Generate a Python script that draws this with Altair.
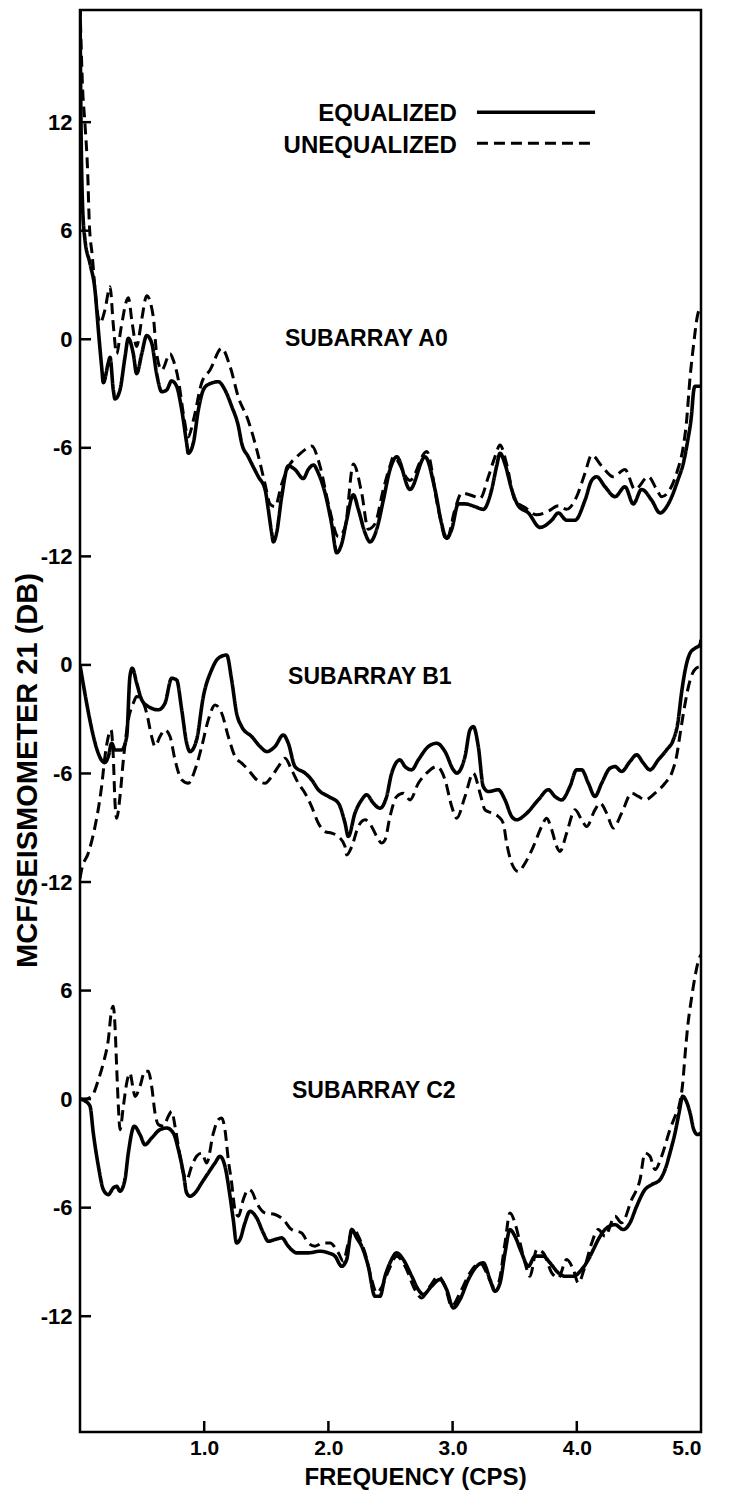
import altair as alt
import pandas as pd

FONT = "Liberation Sans"

SERIES = ["EQUALIZED", "UNEQUALIZED"]
PANEL_OFFSET_DB = {"A0": 0, "B1": -18, "C2": -42}

# (frequency cps, dB)
A0_EQUALIZED = [(0.0, 18.5), (0.008, 12.0), (0.02, 7.5), (0.04, 5.5), (0.08, 4.2), (0.121, 2.7), (0.148, 0.5), (0.174, -1.5), (0.188, -2.4), (0.228, -1.3), (0.242, -1.0), (0.268, -2.8), (0.282, -3.3), (0.322, -2.8), (0.362, -1.0), (0.389, 0.05), (0.429, -0.8), (0.456, -1.9), (0.497, -0.8), (0.537, 0.2), (0.577, -0.2), (0.617, -1.9), (0.658, -2.9), (0.698, -2.8), (0.738, -2.3), (0.778, -2.6), (0.819, -3.9), (0.859, -5.75), (0.872, -6.3), (0.912, -5.75), (0.953, -3.9), (0.993, -2.8), (1.033, -2.5), (1.114, -2.35), (1.167, -2.8), (1.221, -3.7), (1.275, -4.8), (1.302, -5.75), (1.355, -6.5), (1.436, -7.6), (1.49, -8.3), (1.516, -9.4), (1.543, -10.7), (1.557, -11.2), (1.583, -10.7), (1.624, -8.7), (1.677, -7.0), (1.731, -7.2), (1.798, -7.7), (1.838, -7.2), (1.879, -6.95), (1.919, -7.4), (1.973, -8.5), (2.026, -10.2), (2.067, -11.8), (2.107, -11.3), (2.147, -10.0), (2.201, -8.6), (2.241, -9.4), (2.295, -10.7), (2.335, -11.2), (2.389, -10.5), (2.442, -8.9), (2.496, -7.2), (2.55, -6.5), (2.657, -8.3), (2.778, -6.5), (2.858, -8.3), (2.912, -10.2), (2.952, -11.0), (2.993, -10.5), (3.046, -9.1), (3.10, -9.1), (3.18, -9.25), (3.247, -9.4), (3.315, -8.3), (3.355, -7.0), (3.382, -6.3), (3.422, -6.9), (3.476, -8.3), (3.529, -9.2), (3.61, -9.6), (3.704, -10.4), (3.798, -10.0), (3.851, -9.6), (3.918, -10.0), (3.986, -10.0), (4.066, -8.9), (4.12, -7.8), (4.16, -7.6), (4.227, -8.15), (4.308, -8.7), (4.388, -8.15), (4.455, -9.1), (4.522, -8.3), (4.603, -8.9), (4.67, -9.6), (4.737, -9.1), (4.813, -7.8), (4.863, -6.7), (4.893, -5.6), (4.922, -4.3), (4.942, -2.8), (4.952, -2.6), (5.0, -2.6)]

A0_UNEQUALIZED = [(0.0, 18.5), (0.02, 14.0), (0.04, 11.9), (0.062, 9.2), (0.075, 6.4), (0.099, 4.6), (0.126, 2.35), (0.161, 0.9), (0.2, 1.6), (0.242, 2.9), (0.268, 0.8), (0.295, -0.8), (0.33, 0.6), (0.389, 2.3), (0.42, 0.9), (0.456, -0.4), (0.497, 1.1), (0.537, 2.4), (0.59, 1.25), (0.617, -0.8), (0.658, -1.7), (0.725, -0.8), (0.751, -1.15), (0.792, -2.25), (0.832, -4.1), (0.872, -5.4), (0.912, -4.5), (0.98, -2.4), (1.047, -1.7), (1.141, -0.5), (1.208, -1.5), (1.275, -3.2), (1.355, -4.5), (1.423, -6.1), (1.49, -8.0), (1.53, -9.1), (1.57, -9.25), (1.624, -8.0), (1.691, -6.9), (1.745, -6.5), (1.812, -6.1), (1.865, -5.9), (1.932, -7.0), (2.0, -9.1), (2.08, -10.9), (2.134, -10.4), (2.201, -6.9), (2.268, -8.5), (2.321, -10.5), (2.375, -10.2), (2.442, -8.3), (2.496, -7.0), (2.523, -6.5), (2.657, -7.8), (2.791, -6.2), (2.885, -9.4), (2.952, -11.1), (3.019, -9.4), (3.073, -8.5), (3.18, -8.7), (3.221, -8.8), (3.288, -7.6), (3.341, -6.5), (3.382, -5.85), (3.435, -6.9), (3.502, -8.9), (3.583, -9.3), (3.677, -9.7), (3.771, -9.5), (3.851, -9.2), (3.918, -9.4), (3.999, -8.7), (4.066, -7.4), (4.12, -6.4), (4.2, -7.0), (4.294, -7.6), (4.388, -7.2), (4.469, -8.3), (4.576, -7.6), (4.643, -8.3), (4.683, -8.7), (4.75, -8.3), (4.813, -7.2), (4.853, -6.1), (4.882, -4.65), (4.912, -2.1), (4.942, -0.2), (4.97, 1.25), (5.0, 1.8)]

B1_EQUALIZED = [(0.0, 0.0), (0.2, -5.4), (0.228, -5.06), (0.255, -4.33), (0.282, -4.7), (0.335, -4.7), (0.376, -3.96), (0.402, -0.64), (0.421, -0.18), (0.456, -1.0), (0.497, -1.93), (0.55, -2.3), (0.631, -2.48), (0.684, -2.12), (0.738, -0.74), (0.778, -0.83), (0.819, -2.48), (0.859, -4.33), (0.886, -4.79), (0.939, -4.14), (0.993, -1.75), (1.06, -0.27), (1.114, 0.37), (1.181, 0.55), (1.221, -0.83), (1.261, -2.67), (1.302, -3.41), (1.382, -3.96), (1.463, -4.6), (1.503, -4.79), (1.57, -4.51), (1.637, -3.87), (1.677, -4.33), (1.731, -5.62), (1.812, -5.98), (1.865, -6.35), (1.919, -6.9), (2.0, -7.27), (2.08, -7.64), (2.134, -8.75), (2.16, -9.48), (2.214, -8.19), (2.268, -7.46), (2.308, -7.18), (2.362, -7.64), (2.415, -7.92), (2.469, -7.27), (2.509, -6.0), (2.576, -5.25), (2.617, -5.62), (2.67, -5.8), (2.724, -5.25), (2.805, -4.51), (2.872, -4.33), (2.939, -4.79), (3.006, -5.8), (3.033, -5.98), (3.1, -5.06), (3.14, -3.59), (3.167, -3.41), (3.207, -4.51), (3.247, -6.72), (3.288, -7.0), (3.368, -6.9), (3.422, -7.46), (3.476, -8.38), (3.516, -8.56), (3.583, -8.29), (3.69, -7.46), (3.771, -6.9), (3.824, -7.27), (3.878, -7.46), (3.945, -6.72), (3.999, -5.8), (4.039, -5.8), (4.093, -6.54), (4.146, -7.27), (4.2, -6.54), (4.267, -5.71), (4.308, -5.62), (4.361, -5.89), (4.428, -5.34), (4.482, -4.97), (4.536, -5.43), (4.589, -5.8), (4.656, -5.25), (4.724, -4.69), (4.777, -4.14), (4.813, -3.22), (4.843, -1.56), (4.873, -0.27), (4.912, 0.65), (4.952, 0.92), (4.992, 1.11), (5.0, 1.38)]

B1_UNEQUALIZED = [(0.0, -11.8), (0.013, -11.32), (0.067, -10.4), (0.121, -8.93), (0.174, -6.72), (0.201, -5.06), (0.228, -3.96), (0.25, -3.59), (0.268, -5.06), (0.282, -7.64), (0.295, -8.47), (0.322, -7.27), (0.349, -5.25), (0.389, -3.04), (0.429, -2.12), (0.456, -1.75), (0.497, -1.93), (0.537, -2.67), (0.577, -3.96), (0.604, -4.51), (0.644, -3.96), (0.684, -3.59), (0.725, -3.96), (0.765, -5.25), (0.819, -6.35), (0.872, -6.54), (0.926, -5.8), (0.98, -4.51), (1.033, -3.04), (1.087, -2.21), (1.141, -2.67), (1.194, -3.96), (1.248, -5.06), (1.302, -5.43), (1.355, -5.8), (1.423, -6.35), (1.49, -6.54), (1.543, -6.17), (1.597, -5.62), (1.651, -5.16), (1.704, -5.8), (1.758, -6.54), (1.812, -7.09), (1.865, -7.83), (1.919, -8.75), (1.973, -9.21), (2.026, -9.3), (2.08, -9.48), (2.134, -10.04), (2.147, -10.5), (2.188, -10.04), (2.241, -8.93), (2.295, -8.56), (2.348, -8.93), (2.389, -9.48), (2.429, -9.85), (2.456, -9.67), (2.496, -8.38), (2.55, -7.27), (2.603, -7.09), (2.657, -7.46), (2.724, -6.54), (2.791, -5.98), (2.872, -5.62), (2.939, -6.35), (2.993, -7.83), (3.033, -8.47), (3.1, -7.27), (3.167, -5.98), (3.221, -7.09), (3.261, -8.01), (3.315, -8.19), (3.368, -8.38), (3.408, -8.75), (3.435, -9.85), (3.476, -10.96), (3.529, -11.42), (3.583, -10.96), (3.65, -10.04), (3.717, -8.93), (3.757, -8.47), (3.798, -9.11), (3.838, -10.04), (3.865, -10.31), (3.918, -9.3), (3.986, -8.01), (4.039, -8.56), (4.079, -8.93), (4.146, -8.01), (4.187, -7.64), (4.24, -8.19), (4.294, -9.02), (4.361, -8.19), (4.442, -7.09), (4.496, -7.27), (4.549, -7.46), (4.63, -7.09), (4.71, -6.54), (4.764, -5.98), (4.803, -5.06), (4.833, -3.77), (4.863, -2.48), (4.893, -1.38), (4.932, -0.46), (4.962, -0.18), (4.992, -0.09)]

C2_EQUALIZED = [(0.0, 0.0), (0.04, -0.1), (0.081, -0.4), (0.107, -1.87), (0.148, -3.71), (0.188, -5.0), (0.228, -5.28), (0.268, -4.91), (0.295, -4.82), (0.322, -5.09), (0.362, -4.45), (0.389, -2.98), (0.437, -1.5), (0.483, -1.96), (0.523, -2.52), (0.577, -2.15), (0.644, -1.69), (0.698, -1.6), (0.751, -1.87), (0.792, -2.79), (0.832, -4.08), (0.859, -5.19), (0.886, -5.37), (0.926, -5.19), (0.98, -4.63), (1.033, -4.08), (1.087, -3.53), (1.127, -3.16), (1.167, -3.71), (1.208, -5.37), (1.234, -6.66), (1.261, -7.95), (1.288, -7.76), (1.328, -6.84), (1.369, -6.2), (1.423, -6.57), (1.476, -7.4), (1.516, -7.86), (1.57, -7.76), (1.624, -7.67), (1.677, -8.13), (1.745, -8.5), (1.838, -8.5), (1.932, -8.41), (2.0, -8.5), (2.053, -8.68), (2.107, -9.24), (2.147, -8.87), (2.188, -7.21), (2.228, -7.67), (2.268, -8.13), (2.321, -9.24), (2.375, -10.9), (2.415, -10.9), (2.456, -9.79), (2.496, -9.05), (2.55, -8.5), (2.603, -8.87), (2.671, -9.79), (2.724, -10.53), (2.764, -10.8), (2.831, -10.34), (2.898, -9.97), (2.952, -10.53), (3.006, -11.54), (3.059, -11.08), (3.127, -9.97), (3.194, -9.24), (3.247, -9.05), (3.301, -9.97), (3.341, -10.62), (3.382, -10.16), (3.422, -8.5), (3.462, -7.21), (3.502, -7.58), (3.556, -8.5), (3.61, -9.24), (3.663, -8.68), (3.73, -8.68), (3.784, -9.05), (3.851, -9.6), (3.905, -9.79), (3.972, -9.79), (4.039, -9.42), (4.093, -8.87), (4.133, -8.32), (4.173, -7.76), (4.227, -7.21), (4.308, -6.94), (4.374, -7.21), (4.428, -6.84), (4.482, -5.92), (4.549, -5.0), (4.603, -4.73), (4.67, -4.45), (4.71, -3.9), (4.75, -2.98), (4.791, -1.87), (4.823, -0.77), (4.853, 0.15), (4.882, -0.12), (4.912, -0.77), (4.942, -1.69), (4.972, -1.96), (5.0, -1.87)]

C2_UNEQUALIZED = [(0.0, 0.0), (0.04, 0.0), (0.094, 0.15), (0.148, 1.07), (0.188, 1.99), (0.228, 3.29), (0.255, 4.94), (0.268, 5.13), (0.282, 4.02), (0.295, 1.81), (0.309, -0.4), (0.322, -1.69), (0.349, -0.4), (0.376, 0.89), (0.402, 1.44), (0.429, 0.52), (0.443, 0.15), (0.483, 0.71), (0.523, 1.54), (0.55, 1.54), (0.577, 0.71), (0.604, -0.77), (0.631, -1.41), (0.671, -1.5), (0.711, -0.95), (0.738, -0.67), (0.765, -1.5), (0.792, -2.61), (0.832, -4.08), (0.859, -4.45), (0.899, -3.71), (0.939, -3.16), (0.98, -2.98), (1.02, -3.53), (1.074, -1.87), (1.114, -1.13), (1.141, -1.04), (1.167, -1.69), (1.194, -3.34), (1.221, -4.63), (1.248, -6.11), (1.275, -6.48), (1.315, -5.55), (1.355, -5.0), (1.382, -5.09), (1.423, -5.74), (1.49, -6.29), (1.57, -6.38), (1.637, -6.66), (1.704, -7.21), (1.785, -7.4), (1.838, -7.95), (1.892, -8.13), (1.959, -7.95), (2.013, -7.95), (2.08, -8.5), (2.12, -8.96), (2.16, -7.95), (2.201, -7.12), (2.241, -7.58), (2.295, -8.5), (2.348, -9.97), (2.389, -10.71), (2.429, -10.4), (2.483, -9.5), (2.55, -8.68), (2.617, -9.24), (2.697, -10.53), (2.751, -10.99), (2.818, -10.34), (2.885, -9.79), (2.939, -10.34), (2.993, -11.45), (3.059, -10.71), (3.14, -9.6), (3.221, -9.05), (3.274, -9.6), (3.328, -10.34), (3.368, -10.16), (3.422, -7.95), (3.462, -6.29), (3.502, -6.84), (3.543, -7.95), (3.583, -9.05), (3.623, -9.79), (3.677, -8.32), (3.73, -8.5), (3.798, -9.6), (3.851, -9.88), (3.918, -8.87), (3.972, -9.42), (4.012, -10.16), (4.066, -9.24), (4.12, -7.95), (4.173, -7.21), (4.227, -7.58), (4.308, -6.48), (4.361, -6.84), (4.442, -5.55), (4.509, -4.45), (4.549, -2.98), (4.589, -3.16), (4.63, -3.9), (4.683, -3.16), (4.75, -1.69), (4.791, -0.95), (4.823, -0.4), (4.853, 0.89), (4.873, 2.55), (4.893, 4.02), (4.922, 5.5), (4.952, 6.78), (4.982, 7.71), (5.0, 7.98)]

# axis tick values (dB) within each subarray band
Y_TICKS = {"A0": [12, 6, 0, -6, -12], "B1": [0, -6, -12], "C2": [6, 0, -6, -12]}
X_TICKS = [1.0, 2.0, 3.0, 4.0, 5.0]

# annotations
SUBARRAY_LABELS = ["SUBARRAY A0", "SUBARRAY B1", "SUBARRAY C2"]
SUBARRAY_PANELS = ["A0", "B1", "C2"]
SUBARRAY_FREQ = [1.65, 1.675, 1.707]
SUBARRAY_DB = [0.0, -0.66, 0.46]

LEGEND_LABELS = SERIES
LEGEND_TEXT_FREQ = 3.035
LEGEND_LINE_FREQ = [3.196, 4.147]
LEGEND_TEXT_DB = [12.44, 10.67]
LEGEND_LINE_DB = [12.55, 10.84]

# ---------------------------------------------------------------
W, H = 621, 1422
rows = []
for panel, series, pts in [
    ("A0", "EQUALIZED", A0_EQUALIZED), ("A0", "UNEQUALIZED", A0_UNEQUALIZED),
    ("B1", "EQUALIZED", B1_EQUALIZED), ("B1", "UNEQUALIZED", B1_UNEQUALIZED),
    ("C2", "EQUALIZED", C2_EQUALIZED), ("C2", "UNEQUALIZED", C2_UNEQUALIZED),
]:
    for f, db in pts:
        rows.append({"panel": panel, "series": series, "freq": f, "db": db,
                     "u": db + PANEL_OFFSET_DB[panel], "key": panel + "-" + series})
df = pd.DataFrame(rows)

ytick_u, ytick_lbl = [], []
for p, vals in Y_TICKS.items():
    for v in vals:
        ytick_u.append(v + PANEL_OFFSET_DB[p])
        ytick_lbl.append(str(v))
label_expr = ""
for u, l in zip(ytick_u, ytick_lbl):
    label_expr += f"datum.value == {u} ? '{l}' : "
label_expr += "''"

yscale = alt.Scale(domain=[-60.4, 18.2], nice=False, zero=False)
xscale = alt.Scale(domain=[0, 5], nice=False, zero=False)

dash_scale = alt.Scale(domain=SERIES, range=[[1, 0], [11, 6]])
width_scale = alt.Scale(domain=SERIES, range=[3.6, 3.0])

X_ENC = alt.X("freq:Q", scale=xscale, axis=alt.Axis(
    values=X_TICKS, format=".1f", title="FREQUENCY (CPS)",
    labelFontSize=21, labelPadding=5, titleFontSize=24,
    titleX=335, titleY=45, titleAlign="center", titleBaseline="middle"))
Y_ENC = alt.Y("u:Q", scale=yscale, axis=alt.Axis(
    values=ytick_u, labelExpr=label_expr, title="MCF/SEISMOMETER 21  (DB)",
    labelFontSize=22, labelPadding=8, titleFontSize=29,
    titleX=-53, titleY=760, titleAngle=-90, titleAlign="center", titleBaseline="middle"))

lines = alt.Chart(df).mark_line(clip=True, interpolate="monotone", color="black").encode(
    x=X_ENC, y=Y_ENC,
    detail="key:N",
    strokeDash=alt.StrokeDash("series:N", scale=dash_scale, legend=None),
    strokeWidth=alt.StrokeWidth("series:N", scale=width_scale, legend=None),
    order="freq:Q",
)

ytick_df = pd.DataFrame({"u": ytick_u})
yticks = alt.Chart(ytick_df).mark_rule(color="black", strokeWidth=2.5).encode(
    y=Y_ENC, x=alt.value(0), x2=alt.value(11))

xtick_df = pd.DataFrame({"freq": X_TICKS[:-1]})
xticks = alt.Chart(xtick_df).mark_rule(color="black", strokeWidth=2.5).encode(
    x=X_ENC, y=alt.value(H), y2=alt.value(H - 11))

sub_df = pd.DataFrame({
    "label": SUBARRAY_LABELS, "freq": SUBARRAY_FREQ,
    "u": [d + PANEL_OFFSET_DB[p] for d, p in zip(SUBARRAY_DB, SUBARRAY_PANELS)]})
sub_text = alt.Chart(sub_df).mark_text(
    align="left", baseline="middle", font=FONT, fontSize=23, fontWeight="bold", color="black"
).encode(x=X_ENC, y=Y_ENC, text="label:N")

leg_text_df = pd.DataFrame({"label": LEGEND_LABELS, "freq": [LEGEND_TEXT_FREQ] * 2, "u": LEGEND_TEXT_DB})
leg_text = alt.Chart(leg_text_df).mark_text(
    align="right", baseline="middle", font=FONT, fontSize=24, fontWeight="bold", color="black"
).encode(x=X_ENC, y=Y_ENC, text="label:N")

leg_line_df = pd.DataFrame({"series": SERIES, "freq": [LEGEND_LINE_FREQ[0]] * 2,
                            "freq2": [LEGEND_LINE_FREQ[1]] * 2, "u": LEGEND_LINE_DB})
leg_lines = alt.Chart(leg_line_df).mark_rule(color="black").encode(
    x=X_ENC, x2="freq2:Q", y=Y_ENC,
    strokeDash=alt.StrokeDash("series:N", scale=dash_scale, legend=None),
    strokeWidth=alt.StrokeWidth("series:N", scale=width_scale, legend=None))

chart = alt.layer(lines, yticks, xticks, sub_text, leg_text, leg_lines).properties(
    width=W, height=H,
    autosize=alt.AutoSizeParams(type="none"),
    padding={"left": 72, "top": 2, "right": 34, "bottom": 62},
    background="white",
).configure_view(stroke="black", strokeWidth=2.5).configure_axis(
    domain=False, grid=False, ticks=False,
    labelFont=FONT, titleFont=FONT, labelColor="black", titleColor="black",
    labelFontWeight="bold", titleFontWeight="bold",
)

chart.save("out.html", embed_options={"renderer": "svg", "actions": False})
